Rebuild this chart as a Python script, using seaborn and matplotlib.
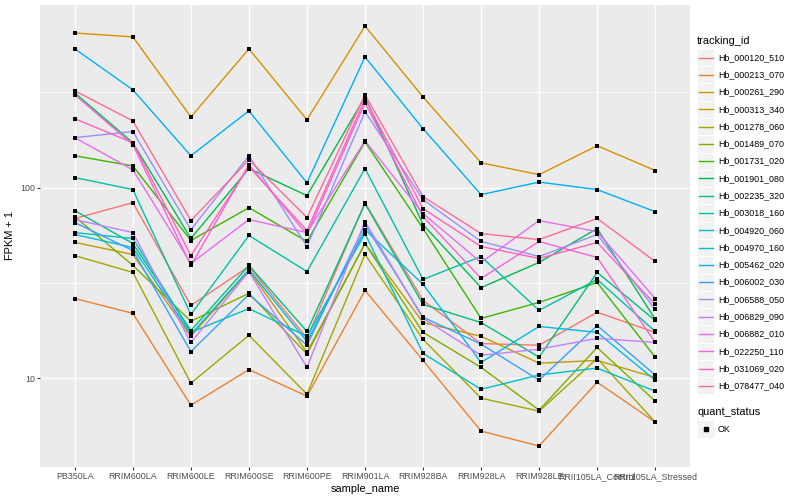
import numpy as np
import pandas as pd
import matplotlib
matplotlib.use("Agg")
import matplotlib.pyplot as plt
import seaborn as sns
from matplotlib.lines import Line2D
from matplotlib.patches import Rectangle
from matplotlib.ticker import FixedLocator, NullFormatter, FixedFormatter

plt.rcParams['font.family'] = ['Liberation Sans', 'DejaVu Sans']

samples = ["PB350LA", "RRIM600LA", "RRIM600LE", "RRIM600SE", "RRIM600PE", "RRIM901LA",
           "RRIM928BA", "RRIM928LA", "RRIM928LE", "RRII105LA_Control", "RRII105LA_Stressed"]

tracking_ids = ["Hb_000120_510", "Hb_000213_070", "Hb_000261_290", "Hb_000313_340",
                "Hb_001278_060", "Hb_001489_070", "Hb_001731_020", "Hb_001901_080",
                "Hb_002235_320", "Hb_003018_160", "Hb_004920_060", "Hb_004970_160",
                "Hb_005462_020", "Hb_006002_030", "Hb_006588_050", "Hb_006829_090",
                "Hb_006882_010", "Hb_022250_110", "Hb_031069_020", "Hb_078477_040"]

# FPKM + 1 per sample (order of `samples`)
hb_000120_510 = [68.9, 83.4, 24.1, 38.6, 16.2, 83.4, 25.6, 15.2, 14.9, 22.2, 17.4]
hb_000213_070 = [26.2, 21.9, 7.22, 11.1, 8.05, 28.9, 12.4, 5.28, 4.41, 9.53, 5.89]
hb_000261_290 = [648, 618, 235, 535, 227, 705, 299, 135, 117, 166, 123]
hb_000313_340 = [51.6, 44.6, 16.6, 36.8, 13.7, 50.9, 19.6, 16.6, 12.0, 12.4, 10.1]
hb_001278_060 = [44.0, 35.9, 9.42, 16.8, 8.24, 44.6, 16.0, 7.86, 6.72, 12.7, 5.89]
hb_001489_070 = [70.5, 39.1, 19.9, 27.9, 13.4, 50.9, 17.4, 11.4, 6.80, 14.5, 7.58]
hb_001731_020 = [147, 130, 52.8, 78.5, 52.2, 174, 61.0, 20.6, 25.0, 31.8, 12.9]
hb_001901_080 = [314, 172, 54.1, 126, 90.8, 299, 64.0, 29.9, 40.5, 61.0, 20.4]
hb_002235_320 = [75.8, 50.9, 17.8, 39.1, 17.6, 82.5, 24.4, 19.6, 12.9, 35.9, 20.1]
hb_003018_160 = [113, 97.7, 21.6, 56.1, 36.3, 126, 33.0, 43.5, 22.7, 33.0, 17.6]
hb_004920_060 = [58.1, 54.1, 17.4, 23.2, 16.6, 57.4, 13.5, 8.75, 10.4, 11.3, 8.55]
hb_004970_160 = [56.8, 48.5, 17.0, 37.2, 15.6, 60.2, 31.1, 12.1, 18.7, 17.4, 9.77]
hb_005462_020 = [535, 326, 147, 253, 106, 485, 204, 91.9, 107, 97.7, 74.8]
hb_006002_030 = [65.6, 46.8, 13.8, 27.5, 14.9, 64.0, 20.9, 15.1, 9.77, 18.9, 10.4]
hb_006588_050 = [183, 197, 60.2, 147, 49.1, 250, 86.5, 52.2, 43.5, 56.8, 23.0]
hb_006829_090 = [68.0, 58.1, 15.4, 36.3, 11.4, 66.4, 20.6, 13.2, 14.2, 16.2, 15.4]
hb_006882_010 = [183, 124, 40.0, 68.0, 58.1, 176, 73.1, 40.5, 67.2, 58.8, 26.2]
hb_022250_110 = [307, 168, 39.1, 132, 56.8, 279, 70.5, 33.4, 52.2, 43.0, 15.4]
hb_031069_020 = [230, 172, 44.0, 129, 59.5, 292, 77.6, 49.1, 42.5, 51.6, 24.4]
hb_078477_040 = [322, 224, 67.2, 140, 69.7, 307, 89.7, 57.4, 53.4, 68.9, 41.0]

series = [hb_000120_510, hb_000213_070, hb_000261_290, hb_000313_340, hb_001278_060,
          hb_001489_070, hb_001731_020, hb_001901_080, hb_002235_320, hb_003018_160,
          hb_004920_060, hb_004970_160, hb_005462_020, hb_006002_030, hb_006588_050,
          hb_006829_090, hb_006882_010, hb_022250_110, hb_031069_020, hb_078477_040]

quant_status = "OK"

rows = []
for tid, vals in zip(tracking_ids, series):
    for s, v in zip(samples, vals):
        rows.append({"tracking_id": tid, "sample_name": s, "fpkm": v, "quant_status": quant_status})
df = pd.DataFrame(rows)


def hcl_hex(h, c=100.0, l=65.0):
    hr = np.deg2rad(h)
    U, V = c * np.cos(hr), c * np.sin(hr)
    Xn, Yn, Zn = 95.047, 100.0, 108.883
    Y = Yn * ((l + 16) / 116) ** 3
    den = Xn + 15 * Yn + 3 * Zn
    un, vn = 4 * Xn / den, 9 * Yn / den
    u = U / (13 * l) + un
    v = V / (13 * l) + vn
    X = 9 * Y * u / (4 * v)
    Z = Y * (12 - 3 * u - 20 * v) / (4 * v)
    X, Y, Z = X / 100, Y / 100, Z / 100
    rgb = [3.240479 * X - 1.537150 * Y - 0.498535 * Z,
           -0.969256 * X + 1.875992 * Y + 0.041556 * Z,
           0.055648 * X - 0.204043 * Y + 1.057311 * Z]
    out = []
    for ch in rgb:
        ch = 1.055 * ch ** (1 / 2.4) - 0.055 if ch > 0.0031308 else 12.92 * ch
        out.append(min(max(ch, 0), 1))
    return tuple(out)


n = len(tracking_ids)
hues = np.linspace(15, 375, n + 1)[:-1]
palette = {tid: hcl_hex(h) for tid, h in zip(tracking_ids, hues)}

W, H = 800, 500
fig = plt.figure(figsize=(8, 5), dpi=100)
px0, px1, py0, py1 = 40, 690, 5, 467
ax = fig.add_axes([px0 / W, 1 - py1 / H, (px1 - px0) / W, (py1 - py0) / H])
ax.set_facecolor('#EBEBEB')
for sp in ax.spines.values():
    sp.set_visible(False)

sns.lineplot(data=df, x="sample_name", y="fpkm", hue="tracking_id", hue_order=tracking_ids,
             palette=palette, estimator=None, sort=False, linewidth=1.0, legend=False, ax=ax,
             zorder=2)
sns.scatterplot(data=df, x="sample_name", y="fpkm", color="black", marker="s", s=7,
                linewidth=0, legend=False, ax=ax, zorder=3)

ax.set_yscale('log')
lo, hi = np.log10(df.fpkm.min()), np.log10(df.fpkm.max())
pad = 0.05 * (hi - lo)
ax.set_ylim(10 ** (lo - pad), 10 ** (hi + pad))
ax.set_xlim(-0.6, len(samples) - 1 + 0.6)

ax.yaxis.set_major_locator(FixedLocator([10, 100]))
ax.yaxis.set_major_formatter(FixedFormatter(["10", "100"]))
ax.yaxis.set_minor_locator(FixedLocator([10 ** 0.5, 10 ** 1.5, 10 ** 2.5]))
ax.yaxis.set_minor_formatter(NullFormatter())
ax.set_axisbelow(True)
ax.grid(which='major', color='white', linewidth=1.0)
ax.grid(which='minor', axis='y', color='white', linewidth=0.5)
ax.tick_params(axis='both', which='major', length=2.0, width=0.8, color='#333333',
               labelsize=6.4, labelcolor='#4D4D4D', pad=1.5)
ax.tick_params(which='minor', length=0)
ax.set_xlabel("sample_name", fontsize=7.9, labelpad=2.5)
ax.set_ylabel("FPKM + 1", fontsize=7.9, labelpad=4)

# legend: tracking_id
def fx(p):
    return p / W


def fy(p):
    return 1 - p / H


key = 17.28
kx = 697
fig.text(fx(kx), fy(41), "tracking_id", fontsize=7.9, va='center', ha='left')
y0 = 57.5
for i, tid in enumerate(tracking_ids):
    yc = y0 + i * key
    fig.add_artist(Rectangle((fx(kx), fy(yc + key / 2)), key / W, key / H,
                             transform=fig.transFigure, facecolor='#F2F2F2',
                             edgecolor='white', linewidth=0.7))
    fig.add_artist(Line2D([fx(kx + 1.7), fx(kx + key - 1.7)], [fy(yc), fy(yc)],
                          transform=fig.transFigure, color=palette[tid], linewidth=1.0))
    fig.text(fx(kx + key + 3.5), fy(yc), tid, fontsize=6.4, va='center', ha='left')

# legend: quant_status
fig.text(fx(kx), fy(412), "quant_status", fontsize=7.9, va='center', ha='left')
yc = 429
fig.add_artist(Rectangle((fx(kx), fy(yc + key / 2)), key / W, key / H,
                         transform=fig.transFigure, facecolor='#F2F2F2',
                         edgecolor='white', linewidth=0.7))
fig.add_artist(Line2D([fx(kx + key / 2)], [fy(yc)], transform=fig.transFigure,
                      marker='s', markersize=2.7, color='black', linestyle='none'))
fig.text(fx(kx + key + 3.5), fy(yc), quant_status, fontsize=6.4, va='center', ha='left')

fig.savefig("out.png", dpi=100)
